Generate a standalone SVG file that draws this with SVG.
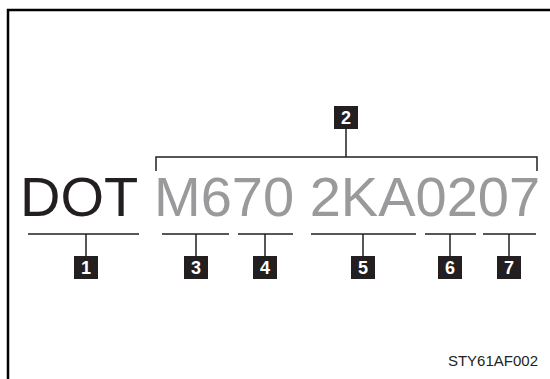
<svg xmlns="http://www.w3.org/2000/svg" width="550" height="379" viewBox="0 0 550 379">
<style>
.big{font-family:"Liberation Sans",Arial,sans-serif;font-size:56px}
.num{font-family:"Liberation Sans",Arial,sans-serif;font-size:18px;font-weight:bold;fill:#fff;text-anchor:middle}
.box{fill:#231f20}
.ln{stroke:#231f20;stroke-width:1.5;fill:none}
</style>
<rect width="550" height="379" fill="#fff"/>
<path d="M8 379 V10 H550" fill="none" stroke="#000" stroke-width="2.5"/>
<g id="text-main">
<text class="big" x="20" y="216" fill="#231f20">DOT</text>
<text class="big" x="154" y="216" fill="#9a9a9c">M670 2KA0207</text>
</g>
<g id="connectors">
<path class="ln" d="M156 171 V157 H537 V171 M346 129 V157"/>
<path class="ln" d="M28 234 H139 M86 234 V256"/>
<path class="ln" d="M162 234 H229 M196 234 V256"/>
<path class="ln" d="M238 234 H293 M265 234 V256"/>
<path class="ln" d="M311 234 H416 M363 234 V256"/>
<path class="ln" d="M425 234 H476 M450 234 V256"/>
<path class="ln" d="M483 234 H536 M509 234 V256"/>
</g>
<g id="n2"><rect class="box" x="334" y="106" width="24" height="23"/><text class="num" x="346" y="124">2</text></g>
<g id="n1"><rect class="box" x="74" y="256" width="24" height="23"/><text class="num" x="86" y="274">1</text></g>
<g id="n3"><rect class="box" x="184" y="256" width="24" height="23"/><text class="num" x="196" y="274">3</text></g>
<g id="n4"><rect class="box" x="253" y="256" width="24" height="23"/><text class="num" x="265" y="274">4</text></g>
<g id="n5"><rect class="box" x="351" y="256" width="24" height="23"/><text class="num" x="363" y="274">5</text></g>
<g id="n6"><rect class="box" x="438" y="256" width="24" height="23"/><text class="num" x="450" y="274">6</text></g>
<g id="n7"><rect class="box" x="497" y="256" width="24" height="23"/><text class="num" x="509" y="274">7</text></g>
<text x="538" y="366" font-family="'Liberation Sans',Arial,sans-serif" font-size="15" fill="#231f20" text-anchor="end">STY61AF002</text>
</svg>
